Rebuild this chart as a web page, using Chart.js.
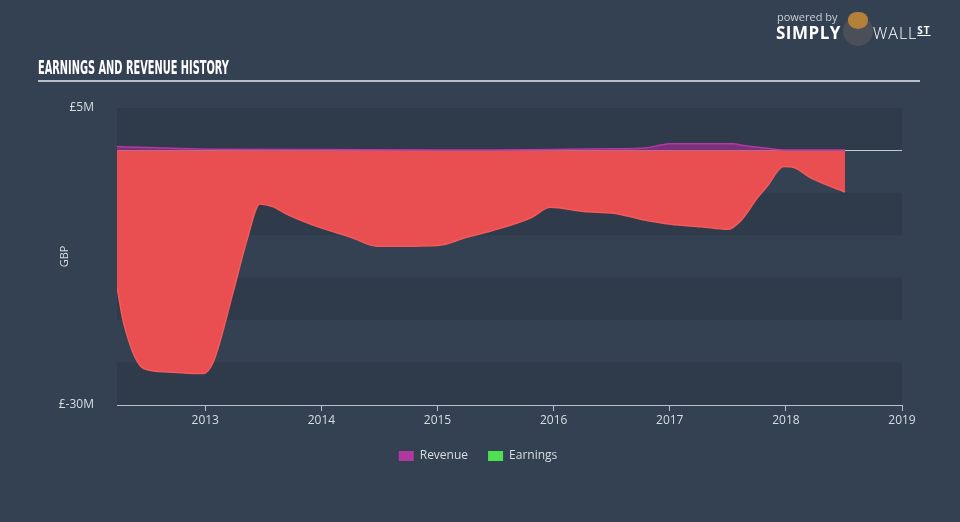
<!DOCTYPE html>
<html>
<head>
<meta charset="utf-8">
<script src="https://cdn.jsdelivr.net/npm/chart.js@4/dist/chart.umd.min.js"></script>
<style>
  body { margin: 0; background: #344152; font-family: "Open Sans", sans-serif; }
  #wrap { position: relative; width: 960px; height: 522px; overflow: hidden; }
  #chart { position: absolute; left: 0; top: 0; }
  .title { position: absolute; left: 38px; top: 55px; color: #fff; font-family: "DejaVu Sans Condensed", "Liberation Sans Narrow", sans-serif; font-weight: bold; font-size: 20px; white-space: nowrap; transform-origin: 0 0; }
  .rule { position: absolute; left: 38px; top: 80px; width: 882px; height: 2px; background: #b9bfc7; }
  .logo { position: absolute; left: 776px; top: 9px; color: #fff; }
  .logo .pb { position: absolute; left: 1px; top: 0; font-size: 11px; color: #c9cfd6; white-space: nowrap; }
  .logo .simply { position: absolute; left: 0; top: 12px; font-size: 17px; font-weight: bold; letter-spacing: 0.5px; }
  .logo .bull { position: absolute; left: 67px; top: 7px; width: 30px; height: 30px; border-radius: 50%; background: #4b4f57; }
  .logo .head { position: absolute; left: 72px; top: 3px; width: 20px; height: 17px; border-radius: 45% 45% 50% 50%; background: #b4803a; }
  .logo .wall { position: absolute; left: 97px; top: 13px; font-size: 16px; font-weight: 300; letter-spacing: 1px; white-space: nowrap; }
  .logo .wall span { font-size: 10px; text-decoration: underline; vertical-align: 5px; font-weight: bold; }
</style>
</head>
<body>
<div id="wrap">
  <canvas id="chart" width="960" height="522"></canvas>
  <div class="title" id="title">EARNINGS AND REVENUE HISTORY</div>
  <div class="rule"></div>
  <div class="logo">
    <div class="pb">powered by</div>
    <div class="simply">SIMPLY</div>
    <div class="bull"></div><div class="head"></div>
    <div class="wall">WALL<span>ST</span></div>
  </div>
</div>
<script>
// values in £M, x in decimal years
const earningsYears = [2012.24, 2012.3, 2012.47, 2012.67, 2012.98, 2013.07, 2013.24, 2013.36, 2013.47, 2013.58, 2013.7, 2013.99, 2014.25, 2014.48, 2015.0, 2015.26, 2015.46, 2015.81, 2015.97, 2016.26, 2016.52, 2016.75, 2017.01, 2017.27, 2017.5, 2017.61, 2017.76, 2017.84, 2017.98, 2018.07, 2018.21, 2018.51];
const earnings = [-16.1, -20.5, -25.7, -26.1, -26.3, -24.9, -16.7, -10.5, -6.3, -6.6, -7.5, -9.1, -10.2, -11.3, -11.2, -10.2, -9.5, -7.9, -6.7, -7.2, -7.4, -8.1, -8.7, -9.0, -9.3, -8.3, -5.5, -4.2, -1.9, -2.0, -3.2, -4.9];

const revenueYears = [2012.24, 2012.5, 2013.0, 2014.0, 2015.0, 2015.5, 2016.0, 2016.5, 2016.79, 2016.91, 2017.0, 2017.3, 2017.55, 2017.62, 2017.84, 2018.0, 2018.51];
const revenue = [0.45, 0.35, 0.15, 0.1, 0.05, 0.05, 0.1, 0.2, 0.3, 0.6, 0.8, 0.8, 0.8, 0.6, 0.25, 0.05, 0.05];

const yearTicks = [2013, 2014, 2015, 2016, 2017, 2018, 2019];
const yLabels = { '5': '£5M', '-30': '£-30M' };

const legendColors = { Revenue: '#b0399f', Earnings: '#4fe04f' };
const textColor = '#d8dde2';
const axisColor = '#b8c2cc';

// squeeze the title to the narrow width of the original
const t = document.getElementById('title');
t.style.transform = 'scaleX(' + (191 / t.offsetWidth) + ')';

const bands = {
  id: 'bands',
  beforeDatasetsDraw(chart) {
    const { ctx, chartArea: a, scales: { y } } = chart;
    ctx.save();
    for (let v = 5, i = 0; v > -30; v -= 5, i++) {
      const top = y.getPixelForValue(v), bot = y.getPixelForValue(v - 5);
      ctx.fillStyle = i % 2 === 0 ? '#2f3b4a' : '#344152';
      ctx.fillRect(a.left, top, a.right - a.left, bot - top);
    }
    const z = Math.round(y.getPixelForValue(0)) + 0.5;
    ctx.strokeStyle = '#c3cad2';
    ctx.lineWidth = 1;
    ctx.beginPath();
    ctx.moveTo(a.left, z);
    ctx.lineTo(a.right, z);
    ctx.stroke();
    ctx.restore();
  }
};

new Chart(document.getElementById('chart'), {
  type: 'line',
  data: {
    datasets: [
      {
        label: 'Revenue',
        data: revenueYears.map((x, i) => ({ x, y: revenue[i] })),
        borderColor: '#b23aa2',
        backgroundColor: 'rgba(150, 45, 140, 0.75)',
        borderWidth: 1.5,
        fill: 'origin',
        pointRadius: 0,
        cubicInterpolationMode: 'monotone'
      },
      {
        label: 'Earnings',
        data: earningsYears.map((x, i) => ({ x, y: earnings[i] })),
        borderColor: '#f45a5c',
        backgroundColor: '#e94e51',
        borderWidth: 1.5,
        fill: 'origin',
        pointRadius: 0,
        cubicInterpolationMode: 'monotone'
      }
    ]
  },
  options: {
    responsive: false,
    animation: false,
    layout: { padding: { left: 54, right: 58, top: 108, bottom: 50 } },
    plugins: {
      tooltip: { enabled: false },
      legend: {
        position: 'bottom',
        labels: {
          color: textColor,
          font: { family: 'Open Sans', size: 12 },
          boxWidth: 15,
          boxHeight: 10,
          padding: 20,
          generateLabels: (chart) => chart.data.datasets.map((d, i) => ({
            text: d.label,
            fillStyle: legendColors[d.label],
            strokeStyle: legendColors[d.label],
            lineWidth: 0,
            fontColor: textColor,
            datasetIndex: i
          }))
        }
      }
    },
    scales: {
      x: {
        type: 'linear',
        min: 2012.24,
        max: 2019,
        afterBuildTicks: (s) => { s.ticks = yearTicks.map(v => ({ value: v })); },
        afterFit: (s) => { s.height = 25; },
        ticks: { color: textColor, font: { family: 'Open Sans', size: 12 }, padding: 2, callback: (v) => String(v) },
        grid: { drawOnChartArea: false, drawTicks: true, tickLength: 6, color: axisColor },
        border: { display: true, color: axisColor, width: 1 }
      },
      y: {
        min: -30,
        max: 5,
        afterFit: (s) => { s.width = 63; },
        ticks: { stepSize: 5, color: textColor, font: { family: 'Open Sans', size: 12 }, padding: 15, callback: (v) => yLabels[String(v)] || '' },
        grid: { display: false },
        border: { display: false },
        title: { display: true, text: 'GBP', color: textColor, font: { family: 'Open Sans', size: 11 } }
      }
    }
  },
  plugins: [bands]
});
</script>
</body>
</html>
